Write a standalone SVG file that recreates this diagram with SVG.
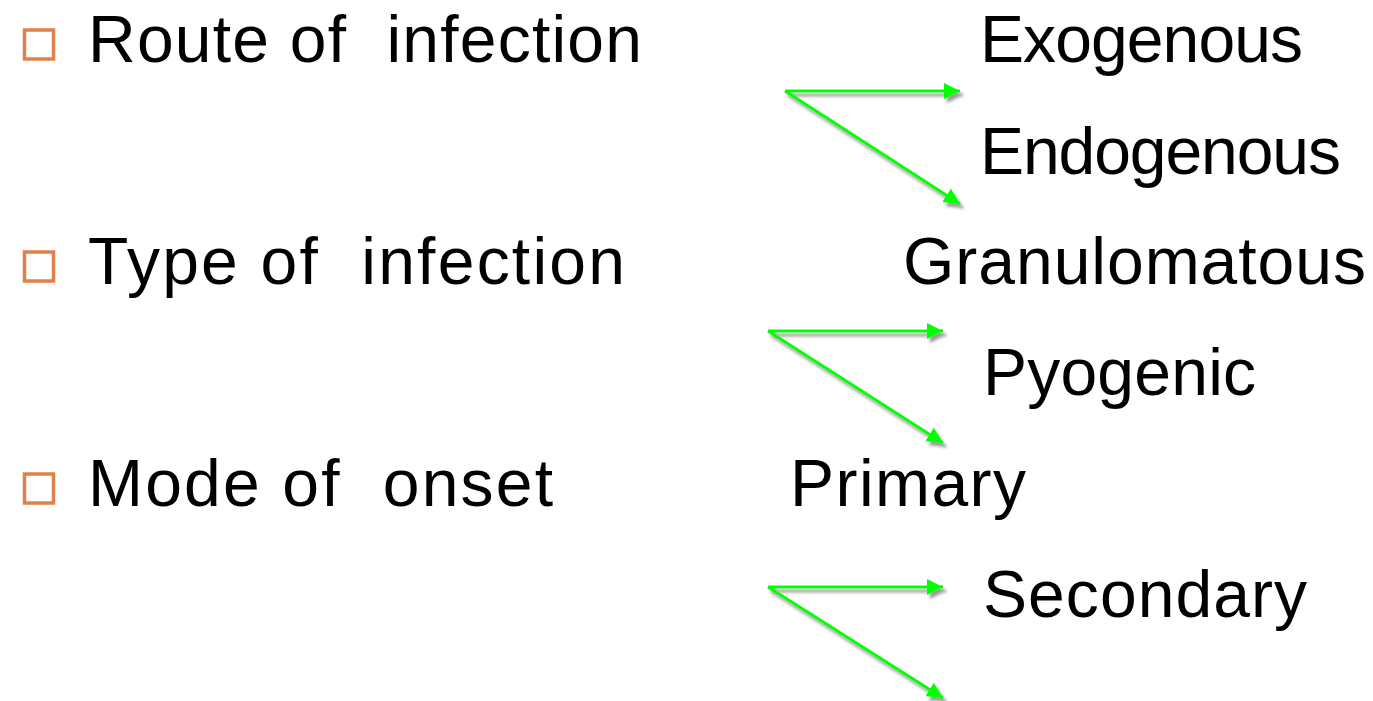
<svg xmlns="http://www.w3.org/2000/svg" width="1373" height="701" viewBox="0 0 1373 701">
<style>
.t{font-family:"Liberation Sans",Arial,sans-serif;font-size:66px;fill:#000;white-space:pre}
.b{fill:none;stroke:#E0804A;stroke-width:3.5}
.c{stroke:#00FF00;stroke-width:3;fill:none}
</style>
<defs>
<marker id="ah" markerUnits="userSpaceOnUse" markerWidth="18" markerHeight="16" refX="16" refY="8" orient="auto">
<path d="M0,0 L16,8 L0,16 z" fill="#00FF00"/>
</marker>
<filter id="sh" x="-10%" y="-10%" width="130%" height="140%">
<feDropShadow dx="3" dy="4" stdDeviation="1.5" flood-color="#707070" flood-opacity="0.7"/>
</filter>
</defs>
<rect width="1373" height="701" fill="#fff"/>
<g id="route"><rect class="b" x="24.5" y="30" width="29" height="29"/><text class="t" x="88" y="62" textLength="554" xml:space="preserve">Route of  infection</text></g>
<g id="type"><rect class="b" x="24.5" y="252" width="29" height="29"/><text class="t" x="88" y="284" textLength="537" xml:space="preserve">Type of  infection</text></g>
<g id="mode"><rect class="b" x="24.5" y="474" width="29" height="29"/><text class="t" x="88" y="506" textLength="465" xml:space="preserve">Mode of  onset</text></g>
<g id="exogenous"><text class="t" x="980" y="62" textLength="323">Exogenous</text></g>
<g id="endogenous"><text class="t" x="980" y="174" textLength="361">Endogenous</text></g>
<g id="granulomatous"><text class="t" x="903" y="284" textLength="463">Granulomatous</text></g>
<g id="pyogenic"><text class="t" x="983" y="395" textLength="273">Pyogenic</text></g>
<g id="primary"><text class="t" x="790" y="506" textLength="236">Primary</text></g>
<g id="secondary"><text class="t" x="983" y="617" textLength="324">Secondary</text></g>
<g id="connectors" filter="url(#sh)">
<line class="c" x1="785" y1="91" x2="960" y2="91" marker-end="url(#ah)"/>
<line class="c" x1="785" y1="91" x2="960" y2="204" marker-end="url(#ah)"/>
<line class="c" x1="768" y1="331" x2="943" y2="331" marker-end="url(#ah)"/>
<line class="c" x1="768" y1="331" x2="943" y2="443" marker-end="url(#ah)"/>
<line class="c" x1="768" y1="587" x2="943" y2="587" marker-end="url(#ah)"/>
<line class="c" x1="768" y1="587" x2="943" y2="698" marker-end="url(#ah)"/>
</g>
</svg>
